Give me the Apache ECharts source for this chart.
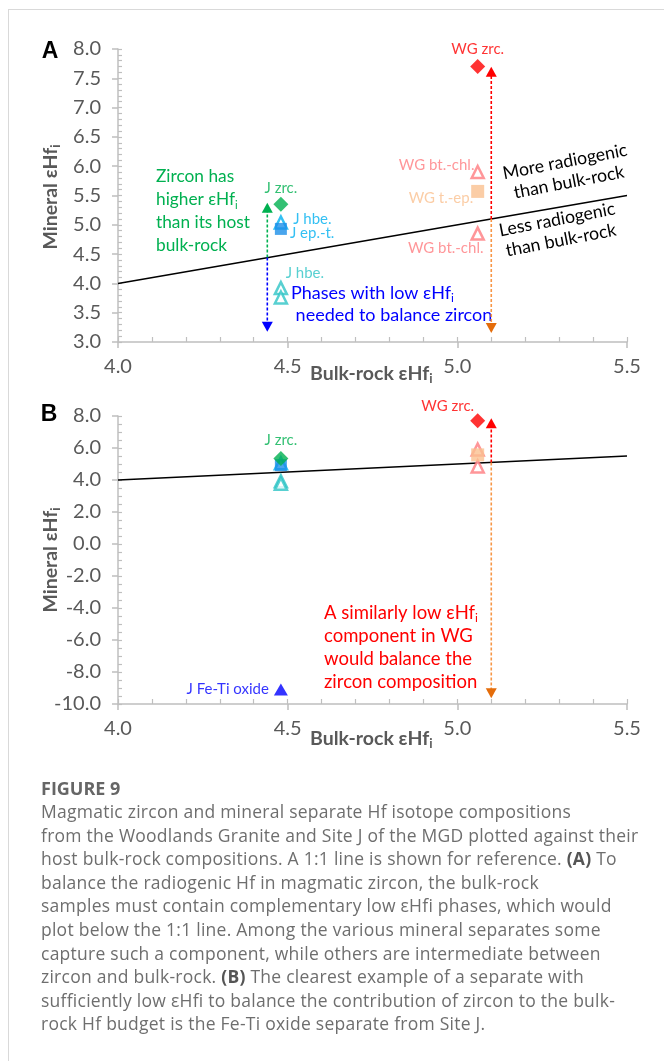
<!DOCTYPE html>
<html>
<head>
<meta charset="utf-8">
<script src="https://cdn.jsdelivr.net/npm/echarts@6/dist/echarts.min.js"></script>
<style>
html,body{margin:0;padding:0;background:#fff;width:664px;height:1061px;overflow:hidden;position:relative;}
#frame{position:absolute;left:8px;top:9px;width:700px;height:1100px;border-left:1.5px solid #d9d9d9;border-top:1.5px solid #d9d9d9;}
#chart{position:absolute;left:0;top:0;width:664px;height:780px;}
#cap{position:absolute;left:41px;top:776px;font-family:'Open Sans',Lato,sans-serif;color:#6e6e6e;white-space:nowrap;}
#cap .fig{font-weight:bold;font-size:18px;line-height:24px;color:#666;}
#cap .txt{font-size:17.5px;line-height:23.6px;letter-spacing:0.25px;}
#cap b{color:#555;}
</style>
</head>
<body>
<div id="frame"></div>
<div id="chart"></div>
<div id="cap">
<div class="fig">FIGURE 9</div>
<div class="txt">Magmatic zircon and mineral separate Hf isotope compositions<br>from the Woodlands Granite and Site J of the MGD plotted against their<br>host bulk-rock compositions. A 1:1 line is shown for reference. <b>(A)</b> To<br>balance the radiogenic Hf in magmatic zircon, the bulk-rock<br>samples must contain complementary low εHfi phases, which would<br>plot below the 1:1 line. Among the various mineral separates some<br>capture such a component, while others are intermediate between<br>zircon and bulk-rock. <b>(B)</b> The clearest example of a separate with<br>sufficiently low εHfi to balance the contribution of zircon to the bulk-<br>rock Hf budget is the Fe-Ti oxide separate from Site J.</div>
</div>
<script>
// ---------- tick labels ----------
const xTickLabels = ['4.0', '4.5', '5.0', '5.5'];
const yTickLabelsA = ['3.0', '3.5', '4.0', '4.5', '5.0', '5.5', '6.0', '6.5', '7.0', '7.5', '8.0'];
const yTickLabelsB = ['-10.0', '-8.0', '-6.0', '-4.0', '-2.0', '0.0', '2.0', '4.0', '6.0', '8.0'];

// ---------- data: [bulk-rock eHfi, mineral eHfi] ----------
const oneToOneLine = [[4.0, 4.0], [5.5, 5.5]];
const jZircon = [[4.48, 5.35]];
const jHornblendeHigh = [[4.48, 5.04]];
const jEpidoteTitanite = [[4.48, 4.93]];
const jHornblendeLow = [[4.48, 3.92], [4.48, 3.76]];
const jFeTiOxide = [[4.48, -9.1]];
const wgZircon = [[5.06, 7.7]];
const wgBiotiteChlorite = [[5.06, 5.9], [5.06, 4.85]];
const wgTitaniteEpidote = [[5.06, 5.57]];

// arrows: [start, end]
const arrowJUpA = [[4.44, 4.44], [4.44, 5.29]];
const arrowJDownA = [[4.44, 4.44], [4.44, 3.26]];
const arrowWgUpA = [[5.1, 5.1], [5.1, 7.61]];
const arrowWgDownA = [[5.1, 5.1], [5.1, 3.24]];
const arrowWgUpB = [[5.1, 5.1], [5.1, 7.54]];
const arrowWgDownB = [[5.1, 5.1], [5.1, -9.33]];

// ---------- styles ----------
const FONT = 'Lato, "Noto Sans", sans-serif';
const AXIS_GRAY = '#BFBFBF';
const LABEL_GRAY = '#595959';
const C = {
  green: '#00B050', sky: '#00B0F0', jSquare: '#1C8FE8', teal: '#2EC4C6',
  blue: '#0000FF', red: '#FF0000', pink: '#FF7C80', peach: '#FAC090',
  orangeLine: '#F79646', orangeHead: '#E46C0A'
};

function fromLabels(labels) {
  const vals = labels.map(Number);
  return { min: vals[0], max: vals[vals.length - 1], interval: +(vals[1] - vals[0]).toFixed(4),
    fmt: v => { let best = labels[0], d = Infinity; labels.forEach(l => { const dd = Math.abs(Number(l) - v); if (dd < d) { d = dd; best = l; } }); return best; } };
}
const xs = fromLabels(xTickLabels), ysA = fromLabels(yTickLabelsA), ysB = fromLabels(yTickLabelsB);

function mainX(grid) {
  return { type: 'value', gridIndex: grid, position: 'bottom', min: xs.min, max: xs.max, interval: xs.interval,
    axisLine: { show: true, onZero: false, lineStyle: { color: AXIS_GRAY, width: 1.5 } },
    axisTick: { show: true, inside: false, length: 6, lineStyle: { color: AXIS_GRAY, width: 1.5 } },
    axisLabel: { show: true, margin: 15, fontSize: 20, color: LABEL_GRAY, fontFamily: FONT, formatter: xs.fmt },
    splitLine: { show: false } };
}
function minorX(grid) {
  return { type: 'value', gridIndex: grid, position: 'bottom', min: xs.min, max: xs.max, interval: 0.1,
    axisLine: { show: false, onZero: false },
    axisTick: { show: true, inside: true, length: 5, lineStyle: { color: AXIS_GRAY, width: 1.2 } },
    axisLabel: { show: false }, splitLine: { show: false } };
}
function mainY(grid, s) {
  return { type: 'value', gridIndex: grid, position: 'left', min: s.min, max: s.max, interval: s.interval,
    axisLine: { show: true, onZero: false, lineStyle: { color: AXIS_GRAY, width: 1.5 } },
    axisTick: { show: true, inside: false, length: 6, lineStyle: { color: AXIS_GRAY, width: 1.5 } },
    axisLabel: { show: true, margin: 17, fontSize: 20, color: LABEL_GRAY, fontFamily: FONT, formatter: s.fmt },
    splitLine: { show: false } };
}
function minorY(grid, s, minorInterval) {
  return { type: 'value', gridIndex: grid, position: 'left', min: s.min, max: s.max, interval: minorInterval,
    axisLine: { show: false, onZero: false },
    axisTick: { show: true, inside: true, length: 4, lineStyle: { color: AXIS_GRAY, width: 1.2 } },
    axisLabel: { show: false }, splitLine: { show: false } };
}

function lbl(text, color, extra) {
  return Object.assign({ show: true, formatter: text, color: color, fontSize: 15, fontFamily: FONT }, extra);
}
function scatter(data, xi, yi, symbol, size, itemStyle, labels, z) {
  return { type: 'scatter', xAxisIndex: xi, yAxisIndex: yi, clip: true, silent: true, z: z || 5,
    symbol: symbol, symbolSize: size, itemStyle: itemStyle,
    data: data.map((v, i) => ({ value: v, label: (labels && labels[i]) ? labels[i] : { show: false } })) };
}
function arrow(data, xi, yi, lineColor, headColor, down) {
  return { type: 'line', xAxisIndex: xi, yAxisIndex: yi, silent: true, z: 4, showSymbol: true,
    lineStyle: { color: lineColor, width: 1.6, type: [3, 2] },
    data: data.map((p, i) => i === 0 ? { value: p, symbol: 'none' } :
      { value: p, symbol: 'triangle', symbolSize: [11, 10], symbolRotate: down ? 180 : 0, itemStyle: { color: headColor } }) };
}
function refLine(xi, yi) {
  return { type: 'line', xAxisIndex: xi, yAxisIndex: yi, silent: true, z: 3, symbol: 'none',
    lineStyle: { color: '#000', width: 1.5 }, data: oneToOneLine };
}
const openTri = c => ({ color: '#fff', borderColor: c, borderWidth: 2.5 });

const seriesA = [
  refLine(0, 0),
  arrow(arrowJUpA, 0, 0, C.green, C.green, false),
  arrow(arrowJDownA, 0, 0, C.blue, C.blue, true),
  arrow(arrowWgUpA, 0, 0, C.red, C.red, false),
  arrow(arrowWgDownA, 0, 0, C.orangeLine, C.orangeHead, true),
  scatter(jHornblendeHigh, 0, 0, 'triangle', 12, openTri(C.sky), [lbl('J hbe.', C.sky, { position: 'right', distance: 5, offset: [0, -3] })]),
  scatter(jEpidoteTitanite, 0, 0, 'rect', 12, { color: C.jSquare }, [lbl('J ep.-t.', C.sky, { position: 'right', distance: 3, offset: [0, 4] })]),
  scatter(jZircon, 0, 0, 'diamond', 15, { color: C.green }, [lbl('J zrc.', C.green, { position: 'top', distance: 1 })]),
  scatter(jHornblendeLow, 0, 0, 'triangle', 12, openTri(C.teal), [lbl('J hbe.', C.teal, { position: 'top', distance: 0, offset: [24, 0] })]),
  scatter(jFeTiOxide, 0, 0, 'triangle', [14, 12], { color: C.blue }, null),
  scatter(wgBiotiteChlorite, 0, 0, 'triangle', 12, openTri(C.pink), [
    lbl('WG bt.-chl.', C.pink, { position: 'left', distance: 0, offset: [4, -7] }),
    lbl('WG bt.-chl.', C.pink, { position: 'bottom', distance: 0, offset: [-32, 0] })]),
  scatter(wgTitaniteEpidote, 0, 0, 'rect', 13, { color: C.peach }, [lbl('WG t.-ep.', C.peach, { position: 'left', distance: 0, offset: [2, 7] })]),
  scatter(wgZircon, 0, 0, 'diamond', 15, { color: C.red }, [lbl('WG zrc.', C.red, { position: 'top', distance: 2 })])
];
const seriesB = [
  refLine(2, 2),
  arrow(arrowWgUpB, 2, 2, C.red, C.red, false),
  arrow(arrowWgDownB, 2, 2, C.orangeLine, C.orangeHead, true),
  scatter(jHornblendeHigh, 2, 2, 'triangle', 12, openTri(C.sky), null),
  scatter(jEpidoteTitanite, 2, 2, 'rect', 12, { color: C.jSquare }, null),
  scatter(jZircon, 2, 2, 'diamond', 15, { color: C.green }, [lbl('J zrc.', C.green, { position: 'top', distance: 3 })]),
  scatter(jHornblendeLow, 2, 2, 'triangle', 12, openTri(C.teal), null),
  scatter(jFeTiOxide, 2, 2, 'triangle', [14, 12], { color: C.blue }, [lbl('J Fe-Ti oxide', C.blue, { position: 'left', distance: 5 })]),
  scatter(wgBiotiteChlorite, 2, 2, 'triangle', 12, openTri(C.pink), null),
  scatter(wgTitaniteEpidote, 2, 2, 'rect', 13, { color: C.peach }, null),
  scatter(wgZircon, 2, 2, 'diamond', 15, { color: C.red }, [lbl('WG zrc.', C.red, { position: 'top', distance: 0, offset: [-30, 0] })])
];

function richStyle(text, size, color, weight, lh, subLh) {
  return { text: text, fontFamily: FONT, fontSize: size, fontWeight: weight, fill: color, lineHeight: lh,
    rich: {
      t: { fontFamily: FONT, fontSize: size, fontWeight: weight, fill: color, color: color, lineHeight: lh },
      s: { fontFamily: FONT, fontSize: Math.round(size * 0.66), fontWeight: weight, fill: color, color: color, lineHeight: subLh, verticalAlign: 'bottom' }
    } };
}
const graphics = [
  { type: 'text', x: 50, y: 52, style: { text: 'A', font: 'bold 23px "Liberation Sans", Arial, sans-serif', fill: '#000', align: 'center', verticalAlign: 'middle' } },
  { type: 'text', x: 49, y: 415, style: { text: 'B', font: 'bold 23px "Liberation Sans", Arial, sans-serif', fill: '#000', align: 'center', verticalAlign: 'middle' } },
  { type: 'text', x: 310, y: 374, style: Object.assign(richStyle('{t|Bulk-rock εHf}{s|i}', 19.5, LABEL_GRAY, 'bold', 23, 6), { align: 'left', verticalAlign: 'middle' }) },
  { type: 'text', x: 310, y: 739, style: Object.assign(richStyle('{t|Bulk-rock εHf}{s|i}', 19.5, LABEL_GRAY, 'bold', 23, 6), { align: 'left', verticalAlign: 'middle' }) },
  { type: 'text', x: 51, y: 197, rotation: Math.PI / 2, style: Object.assign(richStyle('{t|Mineral εHf}{s|i}', 19.5, LABEL_GRAY, 'bold', 23, 6), { align: 'center', verticalAlign: 'middle' }) },
  { type: 'text', x: 51, y: 560, rotation: Math.PI / 2, style: Object.assign(richStyle('{t|Mineral εHf}{s|i}', 19.5, LABEL_GRAY, 'bold', 23, 6), { align: 'center', verticalAlign: 'middle' }) },
  { type: 'text', x: 156, y: 165.5, style: Object.assign(richStyle('{t|Zircon has}\n{t|higher εHf}{s|i}\n{t|than its host}\n{t|bulk-rock}', 17.3, C.green, 'normal', 22.7, 10), { align: 'left', verticalAlign: 'top' }) },
  { type: 'text', x: 291, y: 282, style: Object.assign(richStyle('{t|Phases with low εHf}{s|i}\n{t| needed to balance zircon}', 18, C.blue, 'normal', 22, 10), { align: 'left', verticalAlign: 'top' }) },
  { type: 'text', x: 567, y: 172, rotation: 0.19, style: { text: 'More radiogenic\nthan bulk-rock', fontFamily: FONT, fontSize: 17.7, fill: '#000', lineHeight: 21, align: 'center', verticalAlign: 'middle' } },
  { type: 'text', x: 559, y: 230, rotation: 0.19, style: { text: 'Less radiogenic\nthan bulk-rock', fontFamily: FONT, fontSize: 17.7, fill: '#000', lineHeight: 21, align: 'center', verticalAlign: 'middle' } },
  { type: 'text', x: 324, y: 601.5, style: Object.assign(richStyle('{t|A similarly low εHf}{s|i}\n{t|component in WG}\n{t|would balance the}\n{t|zircon composition}', 18.5, C.red, 'normal', 23, 10), { align: 'left', verticalAlign: 'top' }) }
];

const chart = echarts.init(document.getElementById('chart'), null, { renderer: 'canvas' });
chart.setOption({
  animation: false,
  backgroundColor: 'transparent',
  grid: [
    { left: 118, top: 49, width: 509, height: 293, containLabel: false },
    { left: 118, top: 416, width: 509, height: 288, containLabel: false }
  ],
  xAxis: [mainX(0), minorX(0), mainX(1), minorX(1)],
  yAxis: [mainY(0, ysA), minorY(0, ysA, 0.1), mainY(1, ysB), minorY(1, ysB, 0.5)],
  series: seriesA.concat(seriesB),
  graphic: graphics
});
</script>
</body>
</html>
